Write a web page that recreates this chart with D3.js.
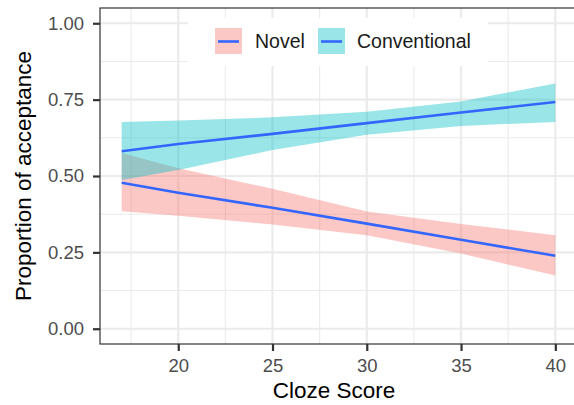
<!DOCTYPE html>
<html>
<head>
<meta charset="utf-8">
<script src="https://cdn.jsdelivr.net/npm/d3@7"></script>
<style>
  body { margin: 0; background: #fff; }
  text { font-family: "Liberation Sans", Arial, sans-serif; }
</style>
</head>
<body>
<div id="chart"></div>
<script>
const cloze = [17, 20, 25, 30, 35, 40];
const novelFit = [0.478, 0.445, 0.396, 0.344, 0.291, 0.239];
const novelLo  = [0.385, 0.370, 0.341, 0.306, 0.246, 0.174];
const novelHi  = [0.575, 0.525, 0.458, 0.384, 0.343, 0.306];
const convFit  = [0.581, 0.605, 0.638, 0.673, 0.708, 0.742];
const convLo   = [0.487, 0.520, 0.585, 0.635, 0.664, 0.677];
const convHi   = [0.677, 0.682, 0.692, 0.710, 0.744, 0.803];
const groups = ['Novel', 'Conventional'];
const xTicks = [20, 25, 30, 35, 40];
const yTicks = [0, 0.25, 0.5, 0.75, 1];

const width = 574;
const height = 405;
const margin = { top: 8, bottom: 61, left: 100, right: -3 };

const fills = { Novel: '#F8766D', Conventional: '#00BFC4' };

const series = [
  { name: 'Novel', fit: novelFit, lo: novelLo, hi: novelHi },
  { name: 'Conventional', fit: convFit, lo: convLo, hi: convHi },
];

const svg = d3.select('#chart')
  .append('svg')
  .attr('width', width)
  .attr('height', height);

const x = d3.scaleLinear()
  .domain([17 - 1.15, 40 + 1.15])
  .range([margin.left, width - margin.right]);

const y = d3.scaleLinear()
  .domain([-0.05, 1.05])
  .range([height - margin.bottom, margin.top]);

// grid
const minorX = [17.5, 22.5, 27.5, 32.5, 37.5];
const minorY = [0.125, 0.375, 0.625, 0.875];
const grid = svg.append('g');
grid.selectAll('.mx').data(minorX).join('line')
  .attr('x1', d => x(d)).attr('x2', d => x(d))
  .attr('y1', margin.top).attr('y2', height - margin.bottom)
  .attr('stroke', '#EBEBEB').attr('stroke-width', 1.1);
grid.selectAll('.my').data(minorY).join('line')
  .attr('y1', d => y(d)).attr('y2', d => y(d))
  .attr('x1', margin.left).attr('x2', width)
  .attr('stroke', '#EBEBEB').attr('stroke-width', 1.1);
grid.selectAll('.gx').data(xTicks).join('line')
  .attr('x1', d => x(d)).attr('x2', d => x(d))
  .attr('y1', margin.top).attr('y2', height - margin.bottom)
  .attr('stroke', '#EBEBEB').attr('stroke-width', 2.2);
grid.selectAll('.gy').data(yTicks).join('line')
  .attr('y1', d => y(d)).attr('y2', d => y(d))
  .attr('x1', margin.left).attr('x2', width)
  .attr('stroke', '#EBEBEB').attr('stroke-width', 2.2);

// ribbons
const area = d3.area()
  .x((d, i) => x(cloze[i]))
  .y0(d => y(d[0]))
  .y1(d => y(d[1]));

svg.append('g')
  .selectAll('path')
  .data(series)
  .join('path')
    .attr('d', s => area(s.lo.map((v, i) => [v, s.hi[i]])))
    .attr('fill', s => fills[s.name])
    .attr('fill-opacity', 0.4);

const line = d3.line()
  .x((d, i) => x(cloze[i]))
  .y(d => y(d));

svg.append('g')
  .selectAll('path')
  .data(series)
  .join('path')
    .attr('d', s => line(s.fit))
    .attr('fill', 'none')
    .attr('stroke', '#3366FF')
    .attr('stroke-width', 2.6);

// panel border
svg.append('rect')
  .attr('x', margin.left).attr('y', margin.top)
  .attr('width', x.range()[1] - margin.left)
  .attr('height', y.range()[0] - margin.top)
  .attr('fill', 'none')
  .attr('stroke', '#333333')
  .attr('stroke-width', 1.2);

function xAxis(g) {
  g.attr('transform', `translate(0,${height - margin.bottom})`)
    .call(d3.axisBottom(x).tickValues(xTicks).tickSize(7).tickPadding(8))
    .call(g => g.select('.domain').remove())
    .attr('font-size', '18.5px')
    .attr('font-family', 'Liberation Sans, Arial, sans-serif');
  g.selectAll('.tick line').attr('stroke', '#333333').attr('stroke-width', 2.2);
  g.selectAll('.tick text').attr('fill', '#4D4D4D');
}

function yAxis(g) {
  g.attr('transform', `translate(${margin.left},0)`)
    .call(d3.axisLeft(y).tickValues(yTicks).tickFormat(d3.format('.2f')).tickSize(7).tickPadding(9))
    .call(g => g.select('.domain').remove())
    .attr('font-size', '18.5px')
    .attr('font-family', 'Liberation Sans, Arial, sans-serif');
  g.selectAll('.tick line').attr('stroke', '#333333').attr('stroke-width', 2.2);
  g.selectAll('.tick text').attr('fill', '#4D4D4D');
}

svg.append('g').call(xAxis);
svg.append('g').call(yAxis);

// axis titles
svg.append('text')
  .attr('x', 334)
  .attr('y', 398)
  .attr('text-anchor', 'middle')
  .attr('font-size', '22.5px')
  .attr('fill', '#000')
  .text('Cloze Score');

svg.append('text')
  .attr('transform', `translate(31,${(margin.top + height - margin.bottom) / 2}) rotate(-90)`)
  .attr('text-anchor', 'middle')
  .attr('font-size', '22.5px')
  .attr('fill', '#000')
  .text('Proportion of acceptance');

// legend
const legend = svg.append('g');
legend.append('rect')
  .attr('x', 188).attr('y', 18)
  .attr('width', 300).attr('height', 48)
  .attr('fill', '#fff');

const keyX = [215, 318];
const labelX = [255, 357];
const items = legend.selectAll('g.item')
  .data(groups)
  .join('g')
    .attr('class', 'item');

items.append('rect')
  .attr('x', (d, i) => keyX[i]).attr('y', 28)
  .attr('width', 27).attr('height', 26)
  .attr('fill', d => fills[d])
  .attr('fill-opacity', 0.4);

items.append('line')
  .attr('x1', (d, i) => keyX[i] + 3).attr('x2', (d, i) => keyX[i] + 24)
  .attr('y1', 41.5).attr('y2', 41.5)
  .attr('stroke', '#3366FF')
  .attr('stroke-width', 2.6);

items.append('text')
  .attr('x', (d, i) => labelX[i])
  .attr('y', 48)
  .attr('font-size', '19.5px')
  .attr('fill', '#1A1A1A')
  .text(d => d);
</script>
</body>
</html>
